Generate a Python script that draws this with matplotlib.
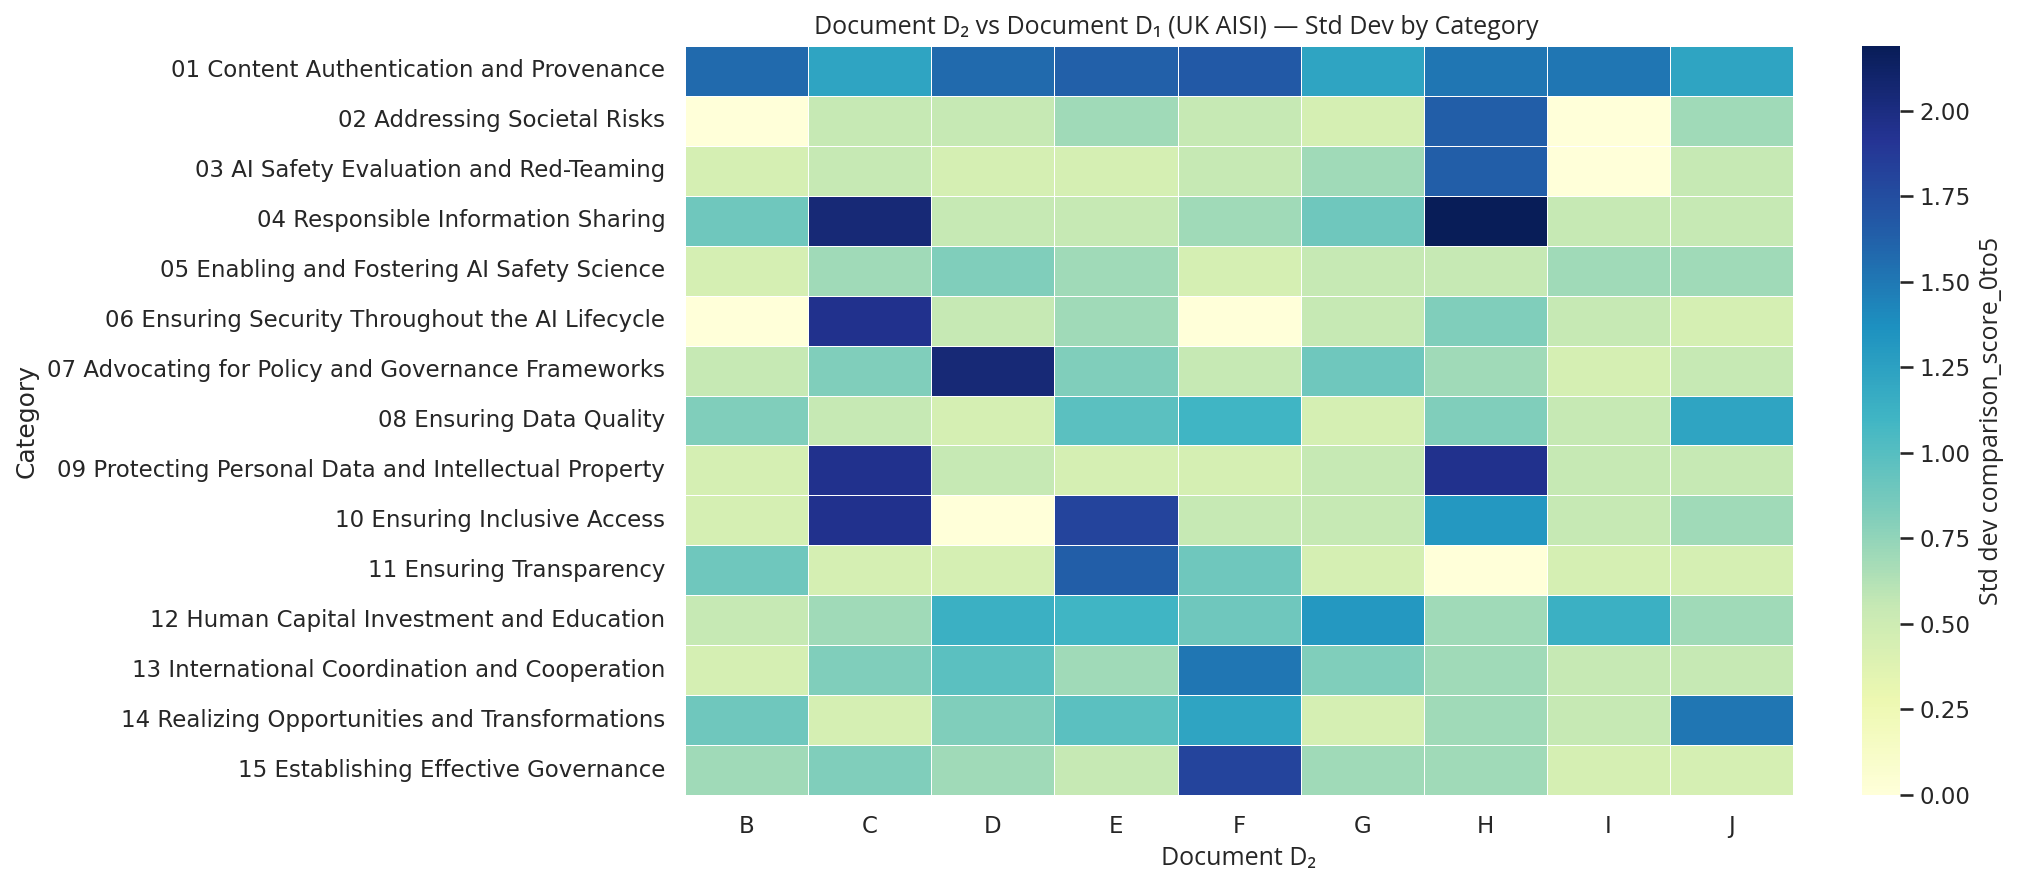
import numpy as np
import pandas as pd
import seaborn as sns
import matplotlib.pyplot as plt

categories = [
    '01 Content Authentication and Provenance',
    '02 Addressing Societal Risks',
    '03 AI Safety Evaluation and Red-Teaming',
    '04 Responsible Information Sharing',
    '05 Enabling and Fostering AI Safety Science',
    '06 Ensuring Security Throughout the AI Lifecycle',
    '07 Advocating for Policy and Governance Frameworks',
    '08 Ensuring Data Quality',
    '09 Protecting Personal Data and Intellectual Property',
    '10 Ensuring Inclusive Access',
    '11 Ensuring Transparency',
    '12 Human Capital Investment and Education',
    '13 International Coordination and Cooperation',
    '14 Realizing Opportunities and Transformations',
    '15 Establishing Effective Governance',
]
docs = ['B', 'C', 'D', 'E', 'F', 'G', 'H', 'I', 'J']

# std dev per category (rows) and document (columns)
std_values = [
    [1.58, 1.23, 1.58, 1.63, 1.67, 1.23, 1.51, 1.51, 1.23],
    [0.00, 0.55, 0.55, 0.70, 0.55, 0.45, 1.64, 0.00, 0.70],
    [0.45, 0.55, 0.45, 0.45, 0.55, 0.70, 1.64, 0.00, 0.55],
    [0.89, 2.05, 0.55, 0.55, 0.70, 0.89, 2.19, 0.55, 0.55],
    [0.45, 0.70, 0.82, 0.70, 0.45, 0.55, 0.55, 0.70, 0.70],
    [0.00, 1.95, 0.55, 0.70, 0.00, 0.55, 0.82, 0.55, 0.45],
    [0.55, 0.82, 2.05, 0.82, 0.55, 0.89, 0.70, 0.45, 0.55],
    [0.82, 0.55, 0.45, 0.98, 1.10, 0.45, 0.82, 0.55, 1.23],
    [0.45, 1.95, 0.55, 0.45, 0.45, 0.55, 1.95, 0.55, 0.55],
    [0.45, 1.95, 0.00, 1.81, 0.55, 0.55, 1.31, 0.55, 0.70],
    [0.89, 0.45, 0.45, 1.64, 0.89, 0.45, 0.00, 0.45, 0.45],
    [0.55, 0.70, 1.14, 1.10, 0.89, 1.31, 0.70, 1.14, 0.70],
    [0.45, 0.82, 0.98, 0.70, 1.51, 0.82, 0.70, 0.55, 0.55],
    [0.89, 0.45, 0.82, 0.98, 1.23, 0.45, 0.70, 0.55, 1.51],
    [0.70, 0.82, 0.70, 0.55, 1.81, 0.70, 0.70, 0.45, 0.45],
]

df = pd.DataFrame(std_values, index=categories, columns=docs)
df.index.name = 'Category'

sns.set_theme()

fig = plt.figure(figsize=(2019 / 150, 885 / 150), dpi=150)
ax = fig.add_axes([0.3393, 0.1017, 0.5488, 0.8463])
cax = fig.add_axes([0.9222, 0.1017, 0.0188, 0.8463])

sns.heatmap(df, ax=ax, cbar_ax=cax, cmap='YlGnBu', vmin=0,
            linewidths=0.35, linecolor='white')

# these three texts are in a narrower face in the original
alt_font = ['Open Sans', 'DejaVu Sans']
ax.set_title('Document D\u2082 vs Document D\u2081 (UK AISI) \u2014 Std Dev by Category',
             family=alt_font, x=0.443)
ax.set_xlabel('Document D\u2082', family=alt_font)
ax.set_ylabel('Category')
cax.set_ylabel('Std dev comparison_score_0to5', family=alt_font)
ax.tick_params(axis='x', rotation=0)
ax.tick_params(axis='y', rotation=0)

plt.savefig('out.png', dpi=150)
